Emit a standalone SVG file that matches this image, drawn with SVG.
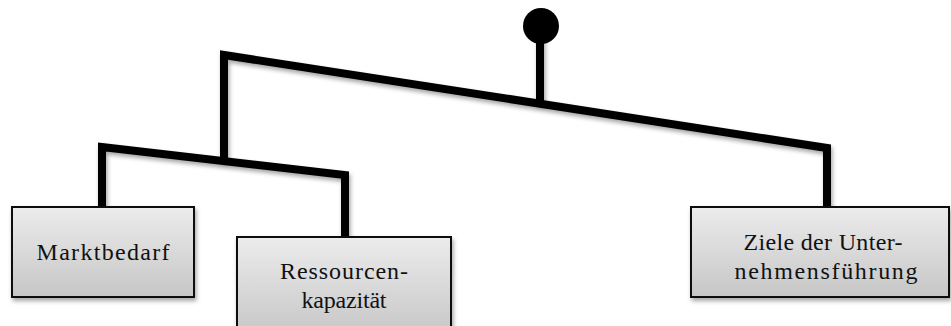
<svg xmlns="http://www.w3.org/2000/svg" width="951" height="326" viewBox="0 0 951 326">
  <defs>
    <linearGradient id="boxFill" x1="0" y1="0" x2="0" y2="1">
      <stop offset="0" stop-color="#ececec"/>
      <stop offset="1" stop-color="#c6c6c6"/>
    </linearGradient>
    <filter id="shadow" filterUnits="userSpaceOnUse" x="0" y="0" width="951" height="326">
      <feDropShadow dx="1.5" dy="3" stdDeviation="2" flood-color="#000" flood-opacity="0.35"/>
    </filter>
  </defs>
  <style>
    .box { fill: url(#boxFill); stroke: #111; stroke-width: 2; filter: url(#shadow); }
    .wire { fill: none; stroke: #000; stroke-width: 8; stroke-linejoin: miter; filter: url(#shadow); }
  </style>

  <!-- connectors: root stem with knob, main bracket, lower bracket -->
  <g id="connectors">
    <polyline class="wire" points="224,161 224,55 827,148 827,207"/>
    <polyline class="wire" points="102,207 102,147 345,175 345,237"/>
    <line class="wire" x1="540" y1="30" x2="540" y2="104"/>
    <circle cx="541" cy="26" r="18" fill="#000"/>
  </g>

  <g font-family="'Liberation Serif', 'Times New Roman', serif" font-size="24" fill="#111" text-anchor="middle">
    <g id="node-marktbedarf">
      <rect class="box" x="12" y="207" width="182" height="90"/>
      <text x="103" y="260" textLength="133">Marktbedarf</text>
    </g>

    <g id="node-ressourcen">
      <rect class="box" x="237" y="237" width="214" height="100"/>
      <text x="344" y="279" textLength="128">Ressourcen-</text>
      <text x="344" y="308" textLength="85">kapazität</text>
    </g>

    <g id="node-ziele">
      <rect class="box" x="691" y="207" width="258" height="90"/>
      <text x="823" y="250" textLength="159">Ziele der Unter-</text>
      <text x="826" y="279" textLength="183">nehmensführung</text>
    </g>
  </g>
</svg>
